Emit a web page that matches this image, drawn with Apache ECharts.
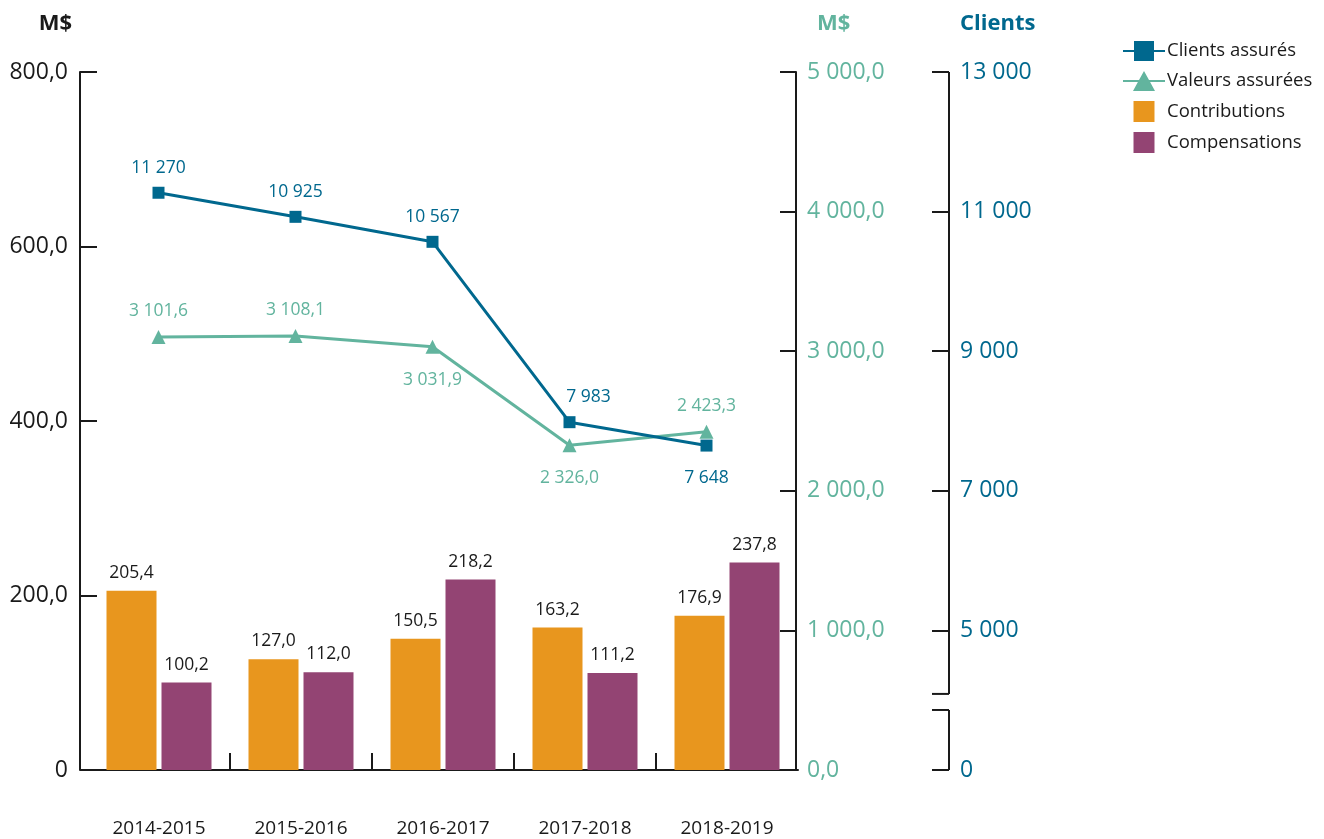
<!DOCTYPE html>
<html>
<head>
<meta charset="utf-8">
<script src="https://cdn.jsdelivr.net/npm/echarts@6/dist/echarts.min.js"></script>
<style>
  html, body { margin: 0; padding: 0; background: #fff; }
  #main { width: 1324px; height: 839px; }
</style>
</head>
<body>
<div id="main"></div>
<script>
// données
const categories = ['2014-2015', '2015-2016', '2016-2017', '2017-2018', '2018-2019'];
const contributions = [205.4, 127.0, 150.5, 163.2, 176.9];
const compensations = [100.2, 112.0, 218.2, 111.2, 237.8];
const clientsAssures = [11270, 10925, 10567, 7983, 7648];
const valeursAssurees = [3101.6, 3108.1, 3031.9, 2326.0, 2423.3];

const FONT = '"Open Sans", "Noto Sans", sans-serif';
const DARK = '#1a1a1a';
const BLUE = '#00688e';
const GREEN = '#62b49e';
const ORANGE = '#e8961e';
const PURPLE = '#934473';

// placement des étiquettes (haut / bas) par point
const clientsLabelPos = ['top', 'top', 'top', 'top', 'bottom'];
const valeursLabelPos = ['top', 'top', 'bottom', 'bottom', 'top'];

// icônes de légende
const ICON_SQUARE = 'path://M0 0H10V10H0Z';
const ICON_LINE_SQUARE = 'path://M0 9H11V0H31V9H42V11H31V20H11V11H0Z';
const ICON_LINE_TRIANGLE = 'path://M0 9H16L21 0L26 9H42V11H27.1L32 20H10L14.9 11H0Z';

function fmt(v, dec) {
  const parts = Number(v).toFixed(dec).split('.');
  parts[0] = parts[0].replace(/\B(?=(\d{3})+(?!\d))/g, ' ');
  return parts.join(',');
}

const chartDom = document.getElementById('main');
const myChart = echarts.init(chartDom);

// grille des lignes (décalée par rapport aux barres)
const G2_LEFT = 90, G2_WIDTH = 685;
const CLIENTS_OFFSET = 174;

// séparations entre catégories (sans les bords)
const boundaries = categories.slice(1).map((c, i) => i + 1);

function lineItems(values, positions, extraOffset) {
  return values.map((v, i) => ({
    value: v,
    label: {
      position: positions[i],
      distance: positions[i] === 'top' ? 10 : 17,
      offset: extraOffset && extraOffset[i] ? extraOffset[i] : [0, 0]
    }
  }));
}

const option = {
  animation: false,
  textStyle: { fontFamily: FONT },
  grid: [
    { left: 88, top: 72, width: 710, bottom: 69 },
    { left: G2_LEFT, top: 72, width: G2_WIDTH, bottom: 69 }
  ],
  legend: {
    orient: 'vertical',
    left: 1118,
    top: 36,
    itemWidth: 42,
    itemHeight: 21,
    itemGap: 10,
    textStyle: { fontFamily: FONT, fontSize: 18.5, color: DARK, padding: [0, 0, 0, -3] },
    data: [
      { name: 'Clients assurés', icon: ICON_LINE_SQUARE },
      { name: 'Valeurs assurées', icon: ICON_LINE_TRIANGLE },
      { name: 'Contributions', icon: ICON_SQUARE },
      { name: 'Compensations', icon: ICON_SQUARE }
    ]
  },
  xAxis: [
    {
      type: 'category',
      gridIndex: 0,
      data: categories,
      axisLine: { lineStyle: { color: DARK, width: 2 } },
      axisTick: { show: false },
      axisLabel: { color: DARK, fontSize: 19, margin: 49, fontFamily: FONT }
    },
    {
      type: 'category',
      gridIndex: 1,
      data: categories,
      show: false
    },
    {
      // graduations entre catégories
      type: 'value',
      gridIndex: 0,
      position: 'bottom',
      min: 0,
      max: categories.length,
      interval: 1,
      axisLine: { show: false, onZero: false },
      axisLabel: { show: false },
      splitLine: { show: false },
      axisTick: {
        show: true,
        inside: true,
        length: 17,
        customValues: boundaries,
        lineStyle: { color: DARK, width: 2 }
      }
    }
  ],
  yAxis: [
    {
      type: 'value',
      gridIndex: 0,
      position: 'left',
      offset: 8,
      min: 0,
      max: 800,
      interval: 200,
      name: 'M$',
      nameLocation: 'end',
      nameGap: 37,
      nameTextStyle: { color: DARK, fontSize: 22, fontWeight: 'bold', align: 'right', padding: [0, 8, 0, 0], fontFamily: FONT },
      axisLine: { show: true, onZero: false, lineStyle: { color: DARK, width: 2 } },
      axisTick: { show: true, inside: true, length: 17, lineStyle: { color: DARK, width: 2 } },
      axisLabel: {
        color: DARK, fontSize: 23, margin: 12, fontFamily: FONT,
        formatter: v => v === 0 ? '0' : fmt(v, 1)
      },
      splitLine: { show: false }
    },
    {
      type: 'value',
      gridIndex: 1,
      position: 'right',
      offset: 21,
      min: 0,
      max: 5000,
      interval: 1000,
      name: 'M$',
      nameLocation: 'end',
      nameGap: 37,
      nameTextStyle: { color: GREEN, fontSize: 22, fontWeight: 'bold', align: 'left', padding: [0, 0, 0, 21], fontFamily: FONT },
      axisLine: { show: true, onZero: false, lineStyle: { color: DARK, width: 2 } },
      axisTick: { show: true, inside: true, length: 16, lineStyle: { color: DARK, width: 2 } },
      axisLabel: {
        color: GREEN, fontSize: 23, margin: 11, fontFamily: FONT,
        formatter: v => fmt(v, 1)
      },
      splitLine: { show: false }
    },
    {
      type: 'value',
      gridIndex: 1,
      position: 'right',
      offset: CLIENTS_OFFSET,
      min: 3000,
      max: 13000,
      interval: 2000,
      name: 'Clients',
      nameLocation: 'end',
      nameGap: 37,
      nameTextStyle: { color: BLUE, fontSize: 22, fontWeight: 'bold', align: 'left', padding: [0, 0, 0, 11], fontFamily: FONT },
      axisLine: { show: false, onZero: false },
      axisTick: { show: true, inside: true, length: 17, lineStyle: { color: DARK, width: 2 } },
      axisLabel: {
        color: BLUE, fontSize: 23, margin: 11, fontFamily: FONT,
        formatter: v => v === 3000 ? '0' : fmt(v, 0)
      },
      splitLine: { show: false }
    }
  ],
  series: [
    {
      name: 'Contributions',
      type: 'bar',
      xAxisIndex: 0,
      yAxisIndex: 0,
      barWidth: 50,
      barGap: '10%',
      itemStyle: { color: ORANGE },
      label: { show: true, position: 'top', distance: 9, color: DARK, fontSize: 17.5, fontFamily: FONT, formatter: p => fmt(p.value, 1) },
      data: contributions
    },
    {
      name: 'Compensations',
      type: 'bar',
      xAxisIndex: 0,
      yAxisIndex: 0,
      barWidth: 50,
      itemStyle: { color: PURPLE },
      label: { show: true, position: 'top', distance: 9, color: DARK, fontSize: 17.5, fontFamily: FONT, formatter: p => fmt(p.value, 1) },
      data: compensations
    },
    {
      name: 'Clients assurés',
      type: 'line',
      xAxisIndex: 1,
      yAxisIndex: 2,
      symbol: 'rect',
      symbolSize: 12,
      z: 5,
      lineStyle: { color: BLUE, width: 3 },
      itemStyle: { color: BLUE },
      label: { show: true, color: BLUE, fontSize: 17.5, fontFamily: FONT, formatter: p => fmt(p.value, 0) },
      data: lineItems(clientsAssures, clientsLabelPos, [null, null, null, [19, 0], null])
    },
    {
      name: 'Valeurs assurées',
      type: 'line',
      xAxisIndex: 1,
      yAxisIndex: 1,
      symbol: 'triangle',
      symbolSize: 14,
      z: 4,
      lineStyle: { color: GREEN, width: 3 },
      itemStyle: { color: GREEN },
      label: { show: true, color: GREEN, fontSize: 17.5, fontFamily: FONT, formatter: p => fmt(p.value, 1) },
      data: lineItems(valeursAssurees, valeursLabelPos)
    }
  ]
};

myChart.setOption(option);

// axe Clients avec coupure entre 0 et 5 000
const axisX = G2_LEFT + G2_WIDTH + CLIENTS_OFFSET;
const yPix = v => myChart.convertToPixel({ yAxisIndex: 2 }, v);
const breakLow = 3860, breakHigh = 4090;
const ls = { stroke: DARK, lineWidth: 2 };
myChart.setOption({
  graphic: [
    { type: 'line', shape: { x1: axisX, y1: yPix(13000), x2: axisX, y2: yPix(breakHigh) }, style: ls },
    { type: 'line', shape: { x1: axisX - 17, y1: yPix(breakHigh), x2: axisX, y2: yPix(breakHigh) }, style: ls },
    { type: 'line', shape: { x1: axisX, y1: yPix(breakLow), x2: axisX, y2: yPix(3000) }, style: ls },
    { type: 'line', shape: { x1: axisX - 17, y1: yPix(breakLow), x2: axisX, y2: yPix(breakLow) }, style: ls }
  ]
});
</script>
</body>
</html>
